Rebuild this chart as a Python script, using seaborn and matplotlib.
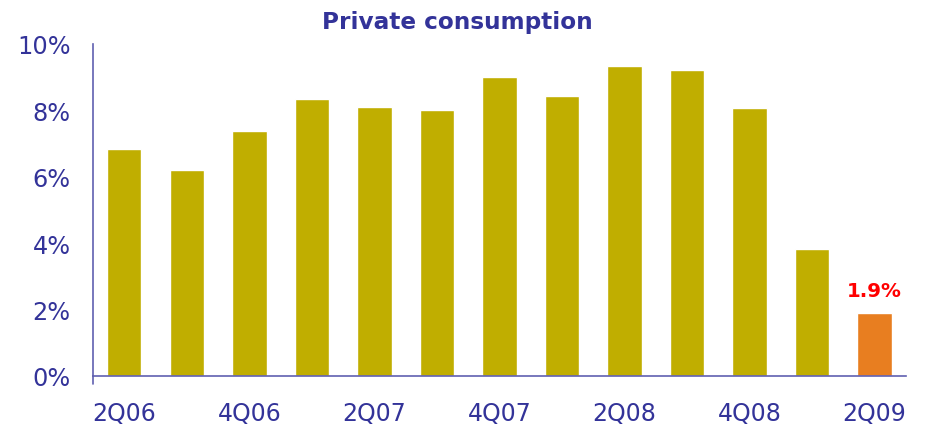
import matplotlib
matplotlib.use("Agg")
import matplotlib.pyplot as plt
import seaborn as sns
import pandas as pd

quarters = ["2Q06", "3Q06", "4Q06", "1Q07", "2Q07", "3Q07", "4Q07",
            "1Q08", "2Q08", "3Q08", "4Q08", "1Q09", "2Q09"]
growth = [6.85, 6.2, 7.38, 8.35, 8.1, 8.02, 9.0, 8.43, 9.35, 9.22, 8.08, 3.83, 1.9]
yticks = [0, 2, 4, 6, 8, 10]
shown_quarters = ["2Q06", "4Q06", "2Q07", "4Q07", "2Q08", "4Q08", "2Q09"]

olive = "#C0AE00"
orange = "#E87E20"
navy = "#333399"
axis_col = "#6060B0"

df = pd.DataFrame({"quarter": quarters, "growth": growth})
colors = [olive] * (len(quarters) - 1) + [orange]

sns.set_style("white")
plt.rcParams["font.family"] = ["DejaVu Sans"]

fig = plt.figure(figsize=(9.3, 4.31), dpi=100)
ax = fig.add_axes([0.1, 0.1253, 0.874, 0.7703])

sns.barplot(data=df, x="quarter", y="growth", hue="quarter",
            palette=colors, width=0.55, saturation=1, legend=False, ax=ax)

ax.set_xlim(-0.5, len(quarters) - 0.5)
ax.set_ylim(0, 10)
ax.set_yticks(yticks)
ax.set_yticklabels([f"{v}%" for v in yticks])
ax.set_xticks([quarters.index(q) for q in shown_quarters])
ax.set_xticklabels(shown_quarters)
ax.tick_params(axis="x", length=0, pad=18, labelsize=17, labelcolor=navy)
ax.tick_params(axis="y", length=8, width=1, color=axis_col, pad=8,
               labelsize=17.3, labelcolor=navy)
ax.set_xlabel("")
ax.set_ylabel("")

for side in ["top", "right"]:
    ax.spines[side].set_visible(False)
for side in ["left", "bottom"]:
    ax.spines[side].set_color(axis_col)
    ax.spines[side].set_linewidth(1.2)

# short downward stub where the two axes meet
ax.plot([-0.5, -0.5], [0, -0.25], color=axis_col, lw=1.2, clip_on=False)

# last value annotated above its bar
last = len(quarters) - 1
ax.text(last, growth[last] + 0.4, f"{growth[last]}%", ha="center", va="bottom",
        color="#FF0000", fontsize=14.3, fontweight="bold")

fig.text(0.492, 0.948, "Private consumption", ha="center", va="center",
         color=navy, fontsize=16.7, fontweight="bold")

fig.savefig("out.png", dpi=100)
